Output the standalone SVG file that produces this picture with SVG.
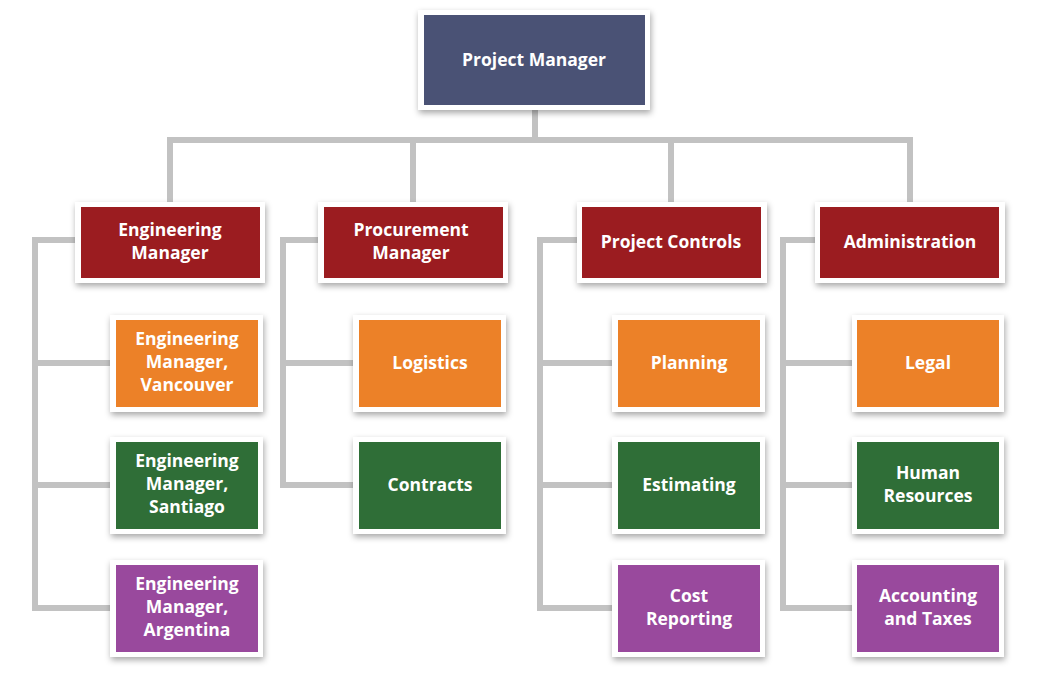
<svg xmlns="http://www.w3.org/2000/svg" width="1053" height="677" viewBox="0 0 1053 677">
<defs>
<filter id="sh" x="-20%" y="-20%" width="140%" height="150%">
<feDropShadow dx="1" dy="3" stdDeviation="3" flood-color="#000" flood-opacity="0.35"/>
</filter>
<style>
.frame{fill:#ffffff;filter:url(#sh)}
.pm{fill:#4a5275}
.red{fill:#9b1c20}
.orange{fill:#ec8128}
.green{fill:#2f6e37}
.purple{fill:#99499d}
.t{font-family:"Open Sans","Liberation Sans",sans-serif;font-weight:700;font-size:17.5px;fill:#ffffff;text-anchor:middle}
.c{fill:none;stroke:#c2c2c2;stroke-width:6;stroke-linecap:square}
</style>
</defs>
<rect width="1053" height="677" fill="#ffffff"/>
<g id="connectors" class="c">
<path d="M535 110V140M170 140H910M170 140V202M413 140V202M671 140V202M910 140V202"/>
<path d="M75 240H35V608H110M35 363H110M35 485H110"/>
<path d="M318 240H283V485H353M283 363H353"/>
<path d="M577 240H540V608H612M540 363H612M540 485H612"/>
<path d="M815 240H783V608H852M783 363H852M783 485H852"/>
</g>
<g id="project-manager"><rect class="frame" x="418" y="10" width="232" height="100"/><rect class="pm" x="424" y="15" width="221" height="90"/><text class="t" x="534" y="66">Project Manager</text></g>
<g id="engineering-manager"><rect class="frame" x="75" y="202" width="190" height="81"/><rect class="red" x="81" y="207" width="179" height="71"/><text class="t" x="170" y="236">Engineering</text><text class="t" x="170" y="259">Manager</text></g>
<g id="procurement-manager"><rect class="frame" x="318" y="202" width="190" height="81"/><rect class="red" x="324" y="207" width="179" height="71"/><text class="t" x="411" y="236">Procurement</text><text class="t" x="411" y="259">Manager</text></g>
<g id="project-controls"><rect class="frame" x="577" y="202" width="190" height="81"/><rect class="red" x="582" y="207" width="179" height="71"/><text class="t" x="671" y="248">Project Controls</text></g>
<g id="administration"><rect class="frame" x="815" y="202" width="190" height="81"/><rect class="red" x="820" y="207" width="179" height="71"/><text class="t" x="910" y="248">Administration</text></g>
<g id="eng-vancouver"><rect class="frame" x="110" y="315" width="153" height="97"/><rect class="orange" x="116" y="320" width="142" height="87"/><text class="t" x="187" y="345">Engineering</text><text class="t" x="187" y="368">Manager,</text><text class="t" x="187" y="391">Vancouver</text></g>
<g id="eng-santiago"><rect class="frame" x="110" y="437" width="153" height="97"/><rect class="green" x="116" y="442" width="142" height="87"/><text class="t" x="187" y="467">Engineering</text><text class="t" x="187" y="490">Manager,</text><text class="t" x="187" y="513">Santiago</text></g>
<g id="eng-argentina"><rect class="frame" x="110" y="560" width="153" height="97"/><rect class="purple" x="116" y="565" width="142" height="87"/><text class="t" x="187" y="590">Engineering</text><text class="t" x="187" y="613">Manager,</text><text class="t" x="187" y="636">Argentina</text></g>
<g id="logistics"><rect class="frame" x="353" y="315" width="153" height="97"/><rect class="orange" x="359" y="320" width="142" height="87"/><text class="t" x="430" y="369">Logistics</text></g>
<g id="contracts"><rect class="frame" x="353" y="437" width="153" height="97"/><rect class="green" x="359" y="442" width="142" height="87"/><text class="t" x="430" y="491">Contracts</text></g>
<g id="planning"><rect class="frame" x="612" y="315" width="153" height="97"/><rect class="orange" x="618" y="320" width="142" height="87"/><text class="t" x="689" y="369">Planning</text></g>
<g id="estimating"><rect class="frame" x="612" y="437" width="153" height="97"/><rect class="green" x="618" y="442" width="142" height="87"/><text class="t" x="689" y="491">Estimating</text></g>
<g id="cost-reporting"><rect class="frame" x="612" y="560" width="153" height="97"/><rect class="purple" x="618" y="565" width="142" height="87"/><text class="t" x="689" y="602">Cost</text><text class="t" x="689" y="625">Reporting</text></g>
<g id="legal"><rect class="frame" x="852" y="315" width="152" height="97"/><rect class="orange" x="857" y="320" width="142" height="87"/><text class="t" x="928" y="369">Legal</text></g>
<g id="human-resources"><rect class="frame" x="852" y="437" width="152" height="97"/><rect class="green" x="857" y="442" width="142" height="87"/><text class="t" x="928" y="479">Human</text><text class="t" x="928" y="502">Resources</text></g>
<g id="accounting-taxes"><rect class="frame" x="852" y="560" width="152" height="97"/><rect class="purple" x="857" y="565" width="142" height="87"/><text class="t" x="928" y="602">Accounting</text><text class="t" x="928" y="625">and Taxes</text></g>
</svg>
